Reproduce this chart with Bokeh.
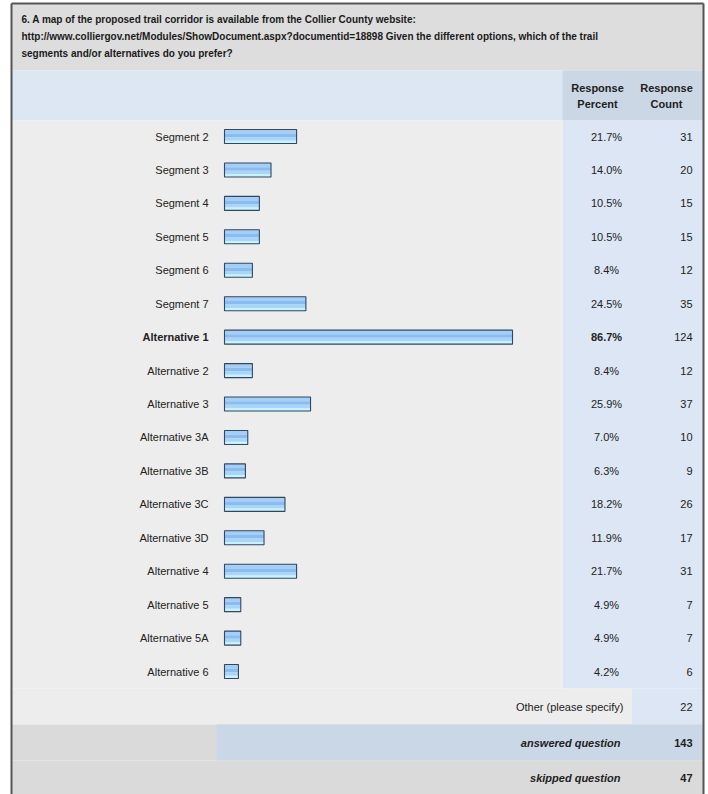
from bokeh.plotting import figure
from bokeh.models import Range1d, ColumnDataSource
from bokeh.embed import file_html
from bokeh.resources import INLINE
from bokeh.core.properties import value

# ---------------- data ----------------
title_lines = [
    "6. A map of the proposed trail corridor is available from the Collier County website:",
    "http://www.colliergov.net/Modules/ShowDocument.aspx?documentid=18898 Given the different options, which of the trail",
    "segments and/or alternatives do you prefer?",
]
categories = ["Segment 2", "Segment 3", "Segment 4", "Segment 5", "Segment 6", "Segment 7",
              "Alternative 1", "Alternative 2", "Alternative 3", "Alternative 3A", "Alternative 3B",
              "Alternative 3C", "Alternative 3D", "Alternative 4", "Alternative 5", "Alternative 5A",
              "Alternative 6"]
percents = [21.7, 14.0, 10.5, 10.5, 8.4, 24.5, 86.7, 8.4, 25.9, 7.0, 6.3, 18.2, 11.9, 21.7, 4.9, 4.9, 4.2]
counts = [31, 20, 15, 15, 12, 35, 124, 12, 37, 10, 9, 26, 17, 31, 7, 7, 6]
other_label = "Other (please specify)"
other_count = 22
answered_label = "answered question"
answered_count = 143
skipped_label = "skipped question"
skipped_count = 47

# ---------------- layout ----------------
W, H = 708, 794
OFF = 0                      # px coordinates are screen pixels
ROW0, PITCH = 136.0, 33.44   # screen y of first row centre, row pitch
BAR_X0, PX_PER_PCT = 224.0, 3.322
BAR_H = 14.0 / PITCH

FONT = "Liberation Sans"
TITLE_FONT = "Liberation Sans"

x_pct = Range1d((OFF - BAR_X0) / PX_PER_PCT, (OFF + W - BAR_X0) / PX_PER_PCT)
y_row = Range1d((OFF + H - ROW0) / PITCH, (OFF - ROW0) / PITCH)

p = figure(width=W, height=H, x_range=x_pct, y_range=y_row, output_backend="svg",
           toolbar_location=None, min_border=0, outline_line_color=None,
           background_fill_color="white", border_fill_color="white")
p.axis.visible = False
p.grid.visible = False
p.extra_x_ranges = {"px": Range1d(OFF, OFF + W)}
p.extra_y_ranges = {"px": Range1d(OFF + H, OFF)}

LEFT, RIGHT, TOP = 11, 703, 3
def box(l, r, t, b, color):
    p.quad(left=[l], right=[r], top=[t], bottom=[b], fill_color=color, line_color=None,
           x_range_name="px", y_range_name="px")

# backgrounds
box(LEFT, RIGHT, TOP, 70, "#dddddd")      # title
box(LEFT, RIGHT, 70, 120, "#dde7f4")      # header
box(562, RIGHT, 70, 120, "#cbd7e5")       # header columns
box(LEFT, 562, 120, 688, "#ededed")       # body
box(562, RIGHT, 120, 688, "#dce6f4")      # value columns
box(LEFT, 631, 688, 724, "#ededed")       # other row
box(631, RIGHT, 688, 724, "#dce6f4")
box(LEFT, RIGHT, 724, 760, "#dadada")     # answered
box(216, RIGHT, 724, 760, "#cad7e6")
box(LEFT, RIGHT, 760, 800, "#dadada")     # skipped

# outer frame
p.multi_line(xs=[[LEFT, LEFT], [RIGHT, RIGHT], [LEFT, RIGHT]], ys=[[800, TOP], [800, TOP], [TOP, TOP]],
             line_color="#555555", line_width=2, x_range_name="px", y_range_name="px")

# title
for i, t in enumerate(title_lines):
    p.text(x=[21], y=[19 + 17 * i], text=[t], text_font=value(TITLE_FONT), text_font_size="10px",
           text_font_style="bold", text_color="#1a1a1a", text_baseline="middle", text_align="left",
           x_range_name="px", y_range_name="px")

# header
for cx, words in [(597, ("Response", "Percent")), (666, ("Response", "Count"))]:
    for j, w in enumerate(words):
        p.text(x=[cx], y=[87 + 16 * j], text=[w], text_font=value(FONT), text_font_size="11px",
               text_font_style="bold", text_color="#222222", text_baseline="middle",
               text_align="center", x_range_name="px", y_range_name="px")

# bars
rows = list(range(len(categories)))
src = ColumnDataSource(dict(y=rows, right=percents, cat=categories,
                            pct=[f"{v:.1f}%" for v in percents], cnt=[str(c) for c in counts],
                            style=["bold" if v == max(percents) else "normal" for v in percents]))
# gradient stripes (top to bottom)
stripes = [(0.00, 0.30, "#a3cef8"), (0.30, 0.55, "#8abcf2"), (0.55, 0.80, "#a8d5fa"), (0.80, 1.00, "#c6f3ff")]
for a, b, c in stripes:
    p.hbar(y=[r - BAR_H / 2 + BAR_H * (a + b) / 2 for r in rows], height=BAR_H * (b - a),
           left=0, right=percents, fill_color=c, line_color=None)
p.hbar(y="y", height=BAR_H, left=0, right="right", source=src, fill_color=None,
       line_color="#33475f", line_width=1.1)

# labels
p.text(x=208, y="y", text="cat", source=src, text_font=value(FONT), text_font_size="11px",
       text_font_style="style", text_color="#222222", text_align="right", text_baseline="middle",
       x_range_name="px")
p.text(x=606, y="y", text="pct", source=src, text_font=value(FONT), text_font_size="11px",
       text_font_style="style", text_color="#222222", text_align="center", text_baseline="middle",
       x_range_name="px")
p.text(x=692, y="y", text="cnt", source=src, text_font=value(FONT), text_font_size="11px",
       text_color="#222222", text_align="right", text_baseline="middle", x_range_name="px")

# footer rows
p.text(x=[623], y=[706], text=[other_label], text_font=value(FONT), text_font_size="11px",
       text_color="#222222", text_align="right", text_baseline="middle", x_range_name="px", y_range_name="px")
p.text(x=[692], y=[706], text=[str(other_count)], text_font=value(FONT), text_font_size="11px",
       text_color="#222222", text_align="right", text_baseline="middle", x_range_name="px", y_range_name="px")
for yy, lab, num in [(742, answered_label, answered_count), (777, skipped_label, skipped_count)]:
    p.text(x=[620], y=[yy], text=[lab], text_font=value(FONT), text_font_size="11px",
           text_font_style="bold italic", text_color="#222222", text_align="right", text_baseline="middle",
           x_range_name="px", y_range_name="px")
    p.text(x=[692], y=[yy], text=[str(num)], text_font=value(FONT), text_font_size="11px",
           text_font_style="bold", text_color="#222222", text_align="right", text_baseline="middle",
           x_range_name="px", y_range_name="px")

open("out.html", "w").write(file_html(p, INLINE))
